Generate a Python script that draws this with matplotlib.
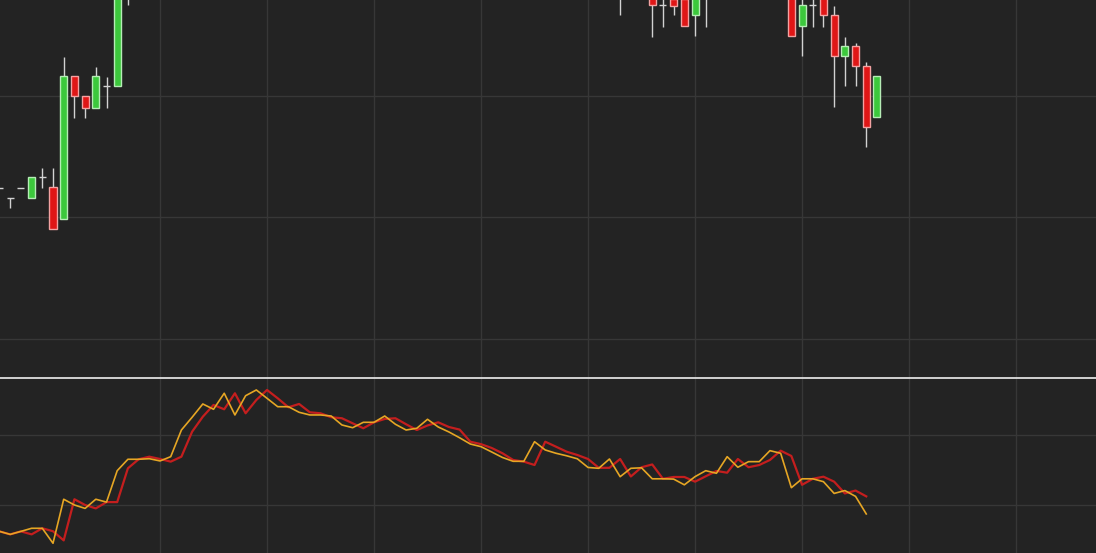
import numpy as np
import matplotlib
matplotlib.use("Agg")
import matplotlib.pyplot as plt

# OHLC par bougie (prix)
opens = [106.23, 105.80, 106.23, 105.80, 106.67, 106.25, 104.94, 110.82, 110.00, 109.51,
         110.41, 110.41, 115.24, 116.53, 116.90, 116.57, 116.19, 116.90, 120.47, 122.61,
         124.29, 123.67, 125.96, 123.10, 125.00, 126.43, 125.24, 123.96, 124.43, 123.24,
         123.10, 122.53, 122.39, 121.67, 120.96, 121.81, 122.29, 122.39, 121.53, 120.71,
         121.36, 121.81, 121.14, 120.77, 119.04, 118.69, 118.14, 117.39, 116.43, 116.19,
         115.71, 119.04, 118.33, 117.61, 117.14, 116.57, 115.31, 115.31, 116.57, 114.07,
         115.39, 115.79, 113.74, 114.00, 114.00, 113.33, 114.10, 114.86, 114.61, 116.57,
         115.39, 115.71, 116.43, 117.76, 117.00, 112.88, 113.74, 114.04, 113.33, 111.65,
         112.06, 111.23, 109.14]
highs = [106.23, 105.80, 106.23, 106.67, 107.04, 107.04, 111.60, 110.82, 110.00, 111.19,
         110.78, 115.30, 116.90, 117.10, 117.30, 117.00, 117.40, 121.20, 123.00, 125.00,
         124.90, 126.50, 126.40, 126.00, 127.00, 126.90, 125.70, 124.60, 124.90, 123.70,
         123.50, 123.20, 122.90, 122.00, 122.20, 122.30, 123.00, 122.80, 121.90, 121.30,
         122.60, 122.20, 121.50, 121.10, 119.40, 119.10, 118.50, 117.70, 116.80, 116.70,
         119.40, 119.50, 118.70, 118.00, 117.50, 116.90, 115.70, 116.90, 116.90, 115.60,
         115.80, 116.10, 114.20, 114.30, 114.40, 114.40, 115.30, 115.20, 117.20, 117.00,
         116.50, 116.50, 118.10, 118.20, 117.30, 114.30, 114.20, 114.40, 113.70, 112.43,
         112.20, 111.40, 110.82]
lows = [106.23, 105.39, 106.23, 105.80, 106.21, 104.53, 104.94, 109.09, 109.09, 109.51,
        109.51, 110.41, 113.74, 116.00, 116.20, 115.80, 115.90, 116.60, 120.10, 122.30,
        123.20, 123.40, 122.40, 122.80, 124.70, 124.80, 123.60, 123.50, 122.90, 122.40,
        122.50, 122.20, 121.00, 120.60, 120.70, 121.40, 121.90, 121.10, 120.30, 120.40,
        121.00, 120.80, 120.00, 119.20, 118.30, 117.90, 117.20, 116.40, 115.80, 115.80,
        115.40, 117.50, 117.00, 116.70, 116.20, 115.00, 114.80, 115.00, 113.33, 114.00,
        114.90, 112.43, 112.84, 113.33, 112.88, 112.47, 112.84, 114.30, 114.40, 115.10,
        115.10, 115.40, 116.10, 117.00, 112.47, 111.65, 112.84, 112.84, 109.55, 110.41,
        110.41, 107.90, 109.14]
closes = [106.23, 105.80, 106.23, 106.67, 106.67, 104.53, 110.82, 110.00, 109.51, 110.82,
          110.41, 114.90, 116.53, 116.53, 116.61, 116.29, 116.90, 120.71, 122.53, 124.43,
          123.67, 125.96, 122.86, 125.61, 126.43, 125.24, 124.04, 124.04, 123.24, 122.86,
          122.86, 122.71, 121.43, 121.04, 121.81, 121.81, 122.71, 121.53, 120.71, 120.96,
          122.24, 121.14, 120.43, 119.60, 118.71, 118.33, 117.57, 116.79, 116.24, 116.24,
          119.04, 117.86, 117.39, 117.03, 116.60, 115.36, 115.24, 116.57, 114.04, 115.24,
          115.31, 113.74, 113.74, 113.70, 112.88, 114.05, 114.90, 114.53, 116.90, 115.39,
          116.19, 116.19, 117.76, 117.39, 112.47, 113.74, 113.74, 113.33, 111.65, 112.06,
          111.23, 108.72, 110.82]

# les lignes du panneau du bas s'arrêtent avant la dernière bougie
n_lines = 82

BG = "#232323"
GRID = "#373737"
UP, UP_EDGE = "#3cc83c", "#b6ecb6"
DOWN, DOWN_EDGE = "#e01616", "#f2a2a2"
WICK = "#d2d2d2"


def main():
    o = np.array(opens)
    h = np.array(highs)
    l = np.array(lows)
    c = np.array(closes)
    x = np.arange(len(c))

    fig = plt.figure(figsize=(10.96, 5.53), dpi=100, facecolor=BG)
    ax = fig.add_axes([0, 175 / 553, 1, 378 / 553], facecolor=BG)
    ax2 = fig.add_axes([0, 0, 1, 175 / 553], facecolor=BG)

    xlim = (0.047, 102.47)
    vgrid = np.arange(15, 100, 10)

    # panneau des bougies
    ax.vlines(x, l, h, color=WICK, lw=1, zorder=2)
    up = c > o
    down = c < o
    flat = c == o
    ax.bar(x[up], (c - o)[up], bottom=o[up], width=0.66, color=UP,
           edgecolor=UP_EDGE, linewidth=1, zorder=3)
    ax.bar(x[down], (o - c)[down], bottom=c[down], width=0.66, color=DOWN,
           edgecolor=DOWN_EDGE, linewidth=1, zorder=3)
    ax.hlines(c[flat], x[flat] - 0.33, x[flat] + 0.33, color=WICK, lw=1, zorder=3)

    ax.set_xlim(*xlim)
    ax.set_ylim(98.395, 113.95)
    ax.set_yticks([100, 105, 110])
    ax.set_xticks(vgrid)

    # panneau du bas : ouverture (rouge) et clôture (jaune)
    ax2.plot(x[:n_lines], o[:n_lines], color="#c41e1e", lw=1.6, zorder=3)
    ax2.plot(x[:n_lines], c[:n_lines], color="#e6a624", lw=1.2, zorder=4)
    ax2.set_xlim(*xlim)
    ax2.set_ylim(103.14, 128.14)
    ax2.set_yticks([110, 120])
    ax2.set_xticks(vgrid)

    for a in (ax, ax2):
        a.grid(True, color=GRID, lw=1)
        a.set_axisbelow(True)
        a.tick_params(length=0, labelbottom=False, labelleft=False)
        for s in a.spines.values():
            s.set_visible(False)
    ax2.spines["top"].set_visible(True)
    ax2.spines["top"].set_color("#e0e0e0")
    ax2.spines["top"].set_linewidth(1.3)

    fig.savefig("out.png", dpi=100, facecolor=BG)


if __name__ == "__main__":
    main()
